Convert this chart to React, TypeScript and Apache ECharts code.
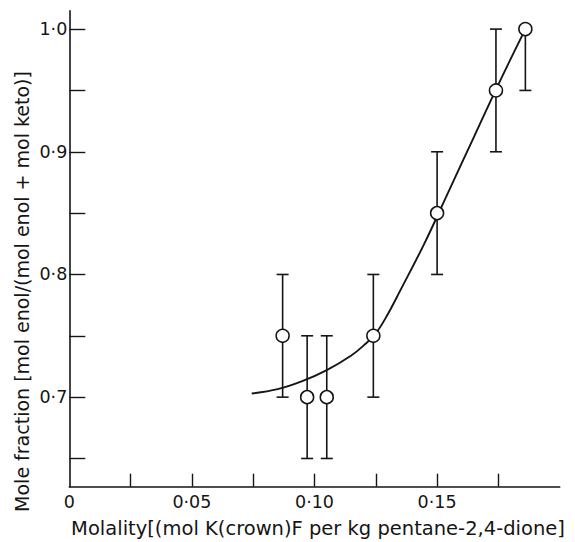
import React, { useEffect, useRef } from "react";
import * as echarts from "echarts";

// Measured data points (molality vs mole fraction of enol)
const molality = [0.087, 0.097, 0.105, 0.124, 0.150, 0.174, 0.186];
const moleFraction = [0.75, 0.70, 0.70, 0.75, 0.85, 0.95, 1.00];
const errorLow = [0.70, 0.65, 0.65, 0.70, 0.80, 0.90, 0.95];
const errorHigh = [0.80, 0.75, 0.75, 0.80, 0.90, 1.00, 1.00];

// Hand-drawn fitted curve
const curveX = [0.0744, 0.085, 0.095, 0.105, 0.115, 0.12, 0.125, 0.13, 0.135, 0.145, 0.155, 0.165, 0.175, 0.186];
const curveY = [0.703, 0.7065, 0.713, 0.722, 0.734, 0.742, 0.752, 0.768, 0.787, 0.826, 0.869, 0.912, 0.955, 1.0];

// Axis ticks and labels
const xTickValues = [0.025, 0.05, 0.075, 0.1, 0.125, 0.15, 0.175];
const xLabelValues = [0, 0.05, 0.1, 0.15];
const yTickValues = [0.65, 0.7, 0.75, 0.8, 0.85, 0.9, 0.95, 1.0];
const yLabelValues = [0.7, 0.8, 0.9, 1.0];

const xTitle = "Molality[(mol K(crown)F per kg pentane-2,4-dione]";
const yTitle = "Mole fraction [mol enol/(mol enol + mol keto)]";

const INK = "#151515";
const FONT = "DejaVu Sans";

export default function App() {
  const ref = useRef<HTMLDivElement>(null);

  useEffect(() => {
    if (!ref.current) return;
    const chart = echarts.init(ref.current, null, { renderer: "svg" });

    const fmtX = (v: number) => (v === 0 ? "0" : v.toFixed(2).replace(".", "·"));
    const fmtY = (v: number) => v.toFixed(1).replace(".", "·");

    const option: any = {
      animation: false,
      backgroundColor: "#ffffff",
      grid: {
        left: 69.3,
        right: 15.3,
        top: 10.7,
        bottom: 55.3,
        containLabel: false,
        outerBoundsMode: "none",
      },
      xAxis: {
        type: "value",
        min: 0,
        max: 0.2,
        interval: 0.025,
        splitLine: { show: false },
        axisLine: { show: true, onZero: false, lineStyle: { color: INK, width: 1.6 } },
        axisTick: {
          show: true,
          inside: true,
          length: 13,
          customValues: xTickValues,
          lineStyle: { color: INK, width: 1.4 },
        },
        axisLabel: {
          show: true,
          customValues: xLabelValues,
          formatter: fmtX,
          color: INK,
          fontFamily: FONT,
          fontSize: 17.5,
          margin: 6,
        },
      },
      yAxis: {
        type: "value",
        min: 0.627,
        max: 1.015,
        splitLine: { show: false },
        axisLine: { show: true, onZero: false, lineStyle: { color: INK, width: 1.6 } },
        axisTick: {
          show: true,
          inside: true,
          length: 16,
          customValues: yTickValues,
          lineStyle: { color: INK, width: 1.4 },
        },
        axisLabel: {
          show: true,
          customValues: yLabelValues,
          formatter: fmtY,
          color: INK,
          fontFamily: FONT,
          fontSize: 17.5,
          margin: 2,
        },
      },
      graphic: [
        {
          type: "text",
          x: 318,
          y: 528,
          style: {
            text: xTitle,
            fill: INK,
            font: `19.5px "${FONT}"`,
            textAlign: "center",
            textVerticalAlign: "middle",
          },
        },
        {
          type: "text",
          x: 22,
          y: 291.5,
          rotation: Math.PI / 2,
          style: {
            text: yTitle,
            fill: INK,
            font: `19px "${FONT}"`,
            textAlign: "center",
            textVerticalAlign: "middle",
          },
        },
      ],
      series: [
        {
          type: "line",
          data: curveX.map((x, i) => [x, curveY[i]]),
          smooth: 0.4,
          showSymbol: false,
          symbol: "none",
          lineStyle: { color: INK, width: 1.9 },
          z: 2,
        },
        {
          type: "custom",
          data: molality.map((x, i) => [x, errorLow[i], errorHigh[i], moleFraction[i]]),
          encode: { x: 0, y: [1, 2] },
          z: 3,
          renderItem: (params: any, api: any) => {
            const x = api.value(0);
            const lo = api.value(1);
            const hi = api.value(2);
            const v = api.value(3);
            const pLo = api.coord([x, lo]);
            const pHi = api.coord([x, hi]);
            const half = 6;
            const style = { stroke: INK, lineWidth: 1.6 };
            const children: any[] = [
              { type: "line", shape: { x1: pLo[0], y1: pLo[1], x2: pHi[0], y2: pHi[1] }, style },
              { type: "line", shape: { x1: pLo[0] - half, y1: pLo[1], x2: pLo[0] + half, y2: pLo[1] }, style },
            ];
            if (hi > v) {
              children.push({
                type: "line",
                shape: { x1: pHi[0] - half, y1: pHi[1], x2: pHi[0] + half, y2: pHi[1] },
                style,
              });
            }
            return { type: "group", children };
          },
        },
        {
          type: "scatter",
          data: molality.map((x, i) => [x, moleFraction[i]]),
          symbol: "circle",
          symbolSize: 13,
          itemStyle: { color: "#ffffff", borderColor: INK, borderWidth: 1.5, opacity: 1 },
          z: 4,
        },
      ],
    };

    chart.setOption(option);
    return () => chart.dispose();
  }, []);

  return (
    <div
      ref={ref}
      style={{ position: "fixed", left: 0, top: 0, width: 575, height: 542, background: "#fff" }}
    />
  );
}
